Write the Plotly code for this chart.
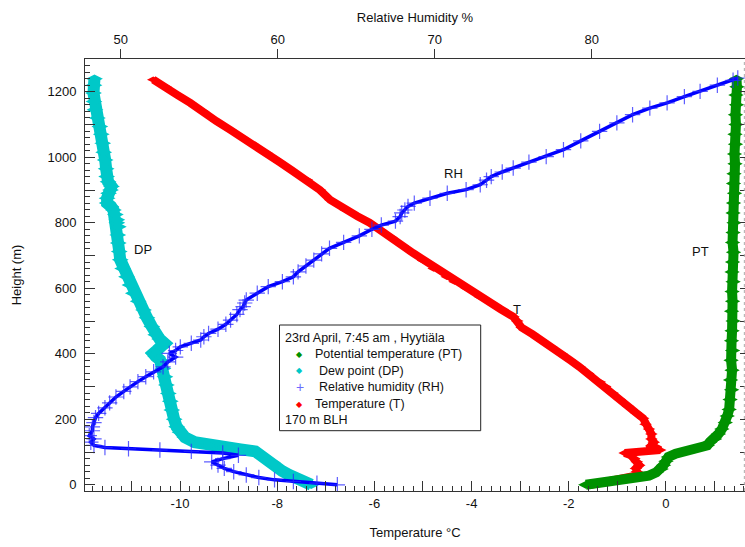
import plotly.graph_objects as go

# ---------------- data ----------------
t_height = [0, 8, 15, 22, 30, 40, 50, 60, 70, 80, 90, 97, 102, 106, 112, 120, 130, 140, 155, 170,
            185, 203, 220, 240, 260, 280, 300, 314, 340, 360, 380, 400, 420, 440, 460, 480, 500,
            513, 536, 555, 574, 600, 620, 635, 660, 685, 707, 730, 755, 778, 800, 820, 840, 870,
            900, 931, 960, 985, 1013, 1040, 1060, 1084, 1110, 1140, 1166, 1190, 1215, 1237]
t_temp = [-1.55, -1.25, -0.95, -0.72, -0.55, -0.6, -0.62, -0.55, -0.6, -0.65, -0.72, -0.85, -0.5,
          -0.12, -0.2, -0.3, -0.25, -0.3, -0.3, -0.35, -0.42, -0.47, -0.62, -0.78, -0.95, -1.1,
          -1.25, -1.36, -1.6, -1.78, -1.97, -2.15, -2.35, -2.55, -2.75, -2.97, -3.06, -3.14, -3.4,
          -3.6, -3.83, -4.1, -4.35, -4.51, -4.78, -5.0, -5.2, -5.42, -5.65, -5.88, -6.1, -6.35,
          -6.6, -6.91, -7.12, -7.39, -7.7, -7.95, -8.22, -8.5, -8.72, -8.97, -9.25, -9.52, -9.79,
          -10.05, -10.3, -10.55]

pt_height = [0, 5, 12, 20, 28, 38, 48, 60, 72, 85, 95, 105, 112, 120, 130, 140, 155, 170, 190,
             210, 230, 260, 290, 320, 350, 380, 410, 440, 470, 500, 530, 560, 590, 620, 650, 680,
             710, 740, 770, 800, 830, 860, 890, 920, 950, 980, 1010, 1040, 1070, 1100, 1130,
             1160, 1190, 1215, 1240]
pt_temp = [-1.65, -1.4, -1.0, -0.6, -0.35, -0.2, -0.1, -0.05, 0.0, 0.05, 0.2, 0.45, 0.65, 0.85,
           0.9, 1.0, 1.08, 1.15, 1.22, 1.26, 1.3, 1.32, 1.35, 1.33, 1.36, 1.34, 1.37, 1.35, 1.36,
           1.38, 1.35, 1.37, 1.36, 1.38, 1.36, 1.37, 1.39, 1.37, 1.38, 1.40, 1.38, 1.39, 1.41,
           1.39, 1.40, 1.42, 1.41, 1.43, 1.42, 1.44, 1.43, 1.45, 1.44, 1.46, 1.45]

dp_height = [0, 8, 18, 30, 42, 55, 68, 80, 92, 102, 108, 114, 120, 130, 145, 160, 177, 200, 228,
             255, 279, 305, 330, 355, 381, 392, 401, 410, 420, 432, 445, 458, 483, 510, 534, 560,
             585, 610, 635, 660, 687, 712, 738, 763, 788, 800, 809, 825, 839, 850, 860, 875, 890,
             900, 911, 925, 941, 965, 992, 1015, 1043, 1070, 1094, 1120, 1145, 1170, 1196, 1220,
             1240]
dp_temp = [-7.3, -7.45, -7.6, -7.75, -7.9, -8.0, -8.1, -8.25, -8.35, -8.45, -8.75, -9.1, -9.4,
           -9.7, -9.9, -10.0, -10.07, -10.12, -10.17, -10.2, -10.24, -10.28, -10.31, -10.35,
           -10.41, -10.5, -10.55, -10.48, -10.38, -10.32, -10.42, -10.5, -10.58, -10.68, -10.75,
           -10.86, -10.96, -11.03, -11.1, -11.18, -11.23, -11.25, -11.27, -11.28, -11.27, -11.3,
           -11.3, -11.33, -11.37, -11.42, -11.5, -11.5, -11.47, -11.43, -11.41, -11.48, -11.51,
           -11.52, -11.54, -11.57, -11.59, -11.62, -11.65, -11.7, -11.75, -11.77, -11.78, -11.77,
           -11.76]

rh_height = [0, 5, 10, 15, 22, 30, 40, 50, 60, 70, 80, 90, 97, 102, 106, 110, 114, 120, 130,
             140, 150, 165, 177, 190, 205, 218, 235, 250, 268, 285, 299, 315, 330, 345, 360, 375,
             390, 401, 410, 421, 432, 442, 452, 462, 475, 490, 503, 520, 535, 544, 555, 564, 585,
             605, 620, 635, 650, 668, 686, 705, 722, 740, 760, 780, 793, 805, 819, 830, 839, 850,
             860, 875, 890, 901, 916, 930, 941, 955, 967, 985, 1002, 1023, 1050, 1079, 1105,
             1130, 1150, 1166, 1185, 1201, 1220, 1235, 1242]
rh_value = [63.8, 62.5, 61.0, 59.8, 58.8, 58.0, 57.2, 56.6, 56.2, 55.8, 56.5, 57.5, 56.5, 54.5,
            52.5, 50.5, 49.0, 48.3, 48.1, 48.3, 48.0, 48.2, 48.2, 48.3, 48.4, 48.6, 49.0, 49.3,
            49.7, 50.2, 50.6, 51.1, 51.6, 52.1, 52.7, 53.0, 53.5, 53.1, 53.5, 53.8, 54.5, 55.1,
            55.3, 55.6, 56.2, 56.7, 57.0, 57.4, 57.6, 57.8, 57.9, 58.0, 58.7, 59.4, 60.3, 61.0,
            61.3, 61.8, 62.3, 62.8, 63.3, 64.2, 65.2, 66.0, 66.6, 67.5, 67.8, 67.9, 68.1, 68.3,
            68.7, 69.7, 70.8, 72.0, 72.9, 73.3, 73.6, 74.3, 75.0, 76.0, 77.1, 78.2, 79.3, 80.5,
            81.6, 82.6, 83.7, 84.8, 85.9, 86.9, 88.0, 89.0, 89.3]

temp_ticks = [-11, -10, -9, -8, -7, -6, -5, -4, -3, -2, -1, 0, 1]
temp_labels = ["", "-10", "", "-8", "", "-6", "", "-4", "", "-2", "", "0", ""]
rh_ticks = [50, 60, 70, 80]
height_ticks = [0, 100, 200, 300, 400, 500, 600, 700, 800, 900, 1000, 1100, 1200]
height_labels = ["0", "", "200", "", "400", "", "600", "", "800", "", "1000", "", "1200"]

# ---------------- styling ----------------
GREEN = "#009100"
CYAN = "#00C8C8"
BLUE = "#0000FF"
RED = "#FF0000"
AXC = "#333333"
FONT = "Arial, Liberation Sans, sans-serif"

W, H = 745, 547
ML, MR, MT, MB = 85, 0, 59, 56
PW, PH = W - ML - MR, H - MT - MB


def fx(x):
    return (x - ML) / PW


def fy(y):
    return (H - MB - y) / PH


fig = go.Figure()
fig.add_trace(go.Scatter(x=pt_temp, y=pt_height, name="Potential temperature (PT)",
                         mode="lines+markers", yaxis="y2",
                         line=dict(color=GREEN, width=10),
                         marker=dict(symbol="diamond-wide", size=11, color=GREEN)))
fig.add_trace(go.Scatter(x=dp_temp, y=dp_height, name="Dew point (DP)",
                         mode="lines+markers",
                         line=dict(color=CYAN, width=12),
                         marker=dict(symbol="diamond-wide", size=12, color=CYAN)))
fig.add_trace(go.Scatter(x=rh_value, y=rh_height, name="Relative humidity (RH)",
                         mode="lines+markers", xaxis="x2",
                         line=dict(color=BLUE, width=3.5),
                         marker=dict(symbol="cross-thin", size=11,
                                     line=dict(color="rgba(40,40,255,0.75)", width=1.2))))
fig.add_trace(go.Scatter(x=t_temp, y=t_height, name="Temperature (T)",
                         mode="lines+markers",
                         line=dict(color=RED, width=8),
                         marker=dict(symbol="diamond-wide", size=9, color=RED)))

tick_font = dict(family=FONT, size=13, color="#111111")

fig.update_layout(
    width=W, height=H,
    margin=dict(l=ML, r=MR, t=MT, b=MB, pad=0, autoexpand=False),
    template="none",
    paper_bgcolor="white", plot_bgcolor="white",
    showlegend=False,
    font=dict(family=FONT, size=13, color="#111111"),
    xaxis=dict(range=[-11.955, 1.626], tickvals=temp_ticks, ticktext=temp_labels,
               ticks="inside", ticklen=10, tickwidth=1, tickcolor=AXC, automargin=False,
               minor=dict(dtick=0.2, ticks="inside", ticklen=5, tickcolor=AXC, showgrid=False),
               showline=True, linecolor=AXC, linewidth=1, showgrid=False, zeroline=False,
               tickfont=tick_font, ticklabelstandoff=0,
               title=dict(text="Temperature °C", font=dict(family=FONT, size=13), standoff=18)),
    xaxis2=dict(range=[47.73, 89.76], overlaying="x", side="top", tickvals=rh_ticks,
                ticks="outside", ticklen=9, tickwidth=1, tickcolor=AXC, automargin=False,
                showline=True, linecolor=AXC, linewidth=1, showgrid=False, zeroline=False,
                tickfont=tick_font,
                title=dict(text="Relative Humidity %", font=dict(family=FONT, size=13), standoff=6)),
    yaxis=dict(range=[-19, 1300], tickvals=height_ticks, ticktext=height_labels,
               ticks="inside", ticklen=10, tickwidth=1, tickcolor=AXC, automargin=False,
               minor=dict(dtick=20, ticks="inside", ticklen=5, tickcolor=AXC, showgrid=False),
               showline=True, linecolor=AXC, linewidth=1, showgrid=False, zeroline=False,
               tickfont=tick_font, ticklabelstandoff=5,
               title=dict(text="Height (m)", font=dict(family=FONT, size=13), standoff=22)),
    yaxis2=dict(range=[-19, 1300], overlaying="y", side="right", tickvals=height_ticks,
                showticklabels=False, ticks="inside", ticklen=5, tickcolor=AXC, automargin=False,
                showline=False, showgrid=False, zeroline=False),
)

# right edge dotted frame
fig.add_shape(type="line", xref="paper", yref="paper", x0=0.999, x1=0.999, y0=0, y1=1,
              line=dict(color="#AAAAAA", width=1, dash="dot"))

# curve labels
lab = dict(showarrow=False, font=dict(family=FONT, size=13, color="#111111"))
fig.add_annotation(x=-10.755, y=717, xref="x", yref="y", text="DP", **lab)
fig.add_annotation(x=71.19, y=951, xref="x2", yref="y", text="RH", **lab)
fig.add_annotation(x=-3.07, y=536, xref="x", yref="y", text="T", **lab)
fig.add_annotation(x=0.70, y=712, xref="x", yref="y", text="PT", **lab)

# legend box
fig.add_shape(type="rect", xref="paper", yref="paper",
              x0=fx(279.5), x1=fx(480.7), y0=fy(430.7), y1=fy(325),
              line=dict(color="#222222", width=1), fillcolor="white", layer="above")

leg_font = dict(family=FONT, size=12.5, color="#111111")
legend_rows = [
    ("23rd April, 7:45 am , Hyytiäla", None, None, 282.7, 338),
    ("Potential temperature (PT)", "◆", GREEN, 313.3, 354),
    ("Dew point (DP)", "◆", CYAN, 317.3, 370.5),
    ("Relative humidity (RH)", "+", "#6A6AFF", 317.3, 387),
    ("Temperature (T)", "◆", RED, 313.3, 404),
    ("170 m BLH", None, None, 282.7, 420),
]
for text, sym, col, tx, ty in legend_rows:
    fig.add_annotation(x=fx(tx), y=fy(ty), xref="paper", yref="paper", text=text,
                       xanchor="left", yanchor="middle", showarrow=False, font=leg_font)
    if sym:
        fig.add_annotation(x=fx(299.5), y=fy(ty), xref="paper", yref="paper", text=sym,
                           xanchor="center", yanchor="middle", showarrow=False,
                           font=dict(family=FONT, size=8 if sym == "◆" else 14, color=col))

# the page's default 8px body margin would shift the figure; remove it
fig.write_html("out.html", config={"displayModeBar": False},
               post_script="document.body.style.margin='0px';")
